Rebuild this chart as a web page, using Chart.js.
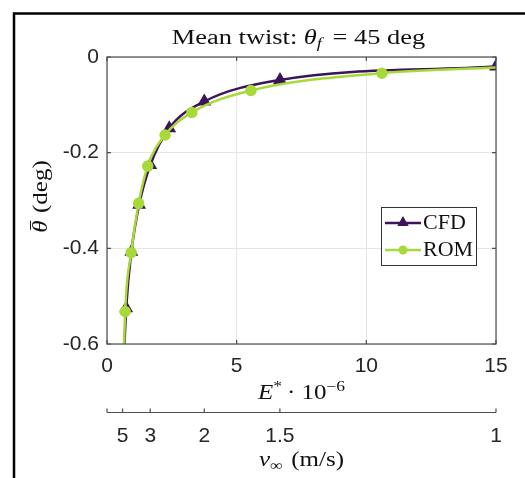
<!DOCTYPE html>
<html>
<head>
<meta charset="utf-8">
<script src="https://cdn.jsdelivr.net/npm/chart.js@4/dist/chart.umd.min.js"></script>
<style>
html,body{margin:0;padding:0;background:#fff;}
#wrap{width:525px;height:478px;}
</style>
</head>
<body>
<div id="wrap"><canvas id="c" width="525" height="478"></canvas></div>
<script>
// ---- data ----
const cfdE     = [0.60, 0.74, 0.94, 1.24, 1.67, 2.40, 3.75, 6.67, 15.0];
const cfdTheta = [-0.70, -0.525, -0.407, -0.309, -0.226, -0.149, -0.093, -0.048, -0.020];
const cfdMarker = [true, true, true, true, true, true, true, true, true];

const romE     = [0.60, 0.70, 0.93, 1.22, 1.57, 2.24, 3.27, 5.55, 10.6, 15.0];
const romTheta = [-0.72, -0.532, -0.409, -0.306, -0.228, -0.163, -0.116, -0.070, -0.034, -0.022];
const romMarker = [false, true, true, true, true, true, true, true, true, false];

const xTicks = [0, 5, 10, 15];
const yTicks = [-0.6, -0.4, -0.2, 0];
const vTicks = [5, 3, 2, 1.5, 1];          // secondary axis labels (m/s)
const eRef = 15;                             // E* = eRef / v^2 (axis relation)

const seriesNames = ['CFD', 'ROM'];
const cfdColor = '#3d1458';
const romColor = '#a8d93a';

const SERIF = '"Liberation Serif", "Times New Roman", serif';
const SANS = '"Liberation Sans", Arial, sans-serif';
const AXC = '#4d4d4d';
const TXT = '#262626';
const SX = 1.25;   // horizontal stretch of the serif (LaTeX-like) text

function drawRich(ctx, parts, x, y, align, sx) {
  sx = sx || 1;
  let w = 0;
  for (const p of parts) {
    ctx.font = (p.italic ? 'italic ' : '') + p.size + 'px ' + SERIF;
    p.w = ctx.measureText(p.t).width;
    w += p.w + (p.gap || 0);
  }
  ctx.save();
  ctx.translate(x, y);
  ctx.scale(sx, 1);
  let cx = align === 'center' ? -w / 2 : 0;
  const pos = [];
  for (const p of parts) {
    ctx.font = (p.italic ? 'italic ' : '') + p.size + 'px ' + SERIF;
    ctx.fillText(p.t, cx, (p.dy || 0));
    pos.push(cx * sx);
    cx += p.w + (p.gap || 0);
  }
  ctx.restore();
  return pos;
}

function triangle(ctx, x, y, r) {
  ctx.beginPath();
  ctx.moveTo(x, y - r);
  ctx.lineTo(x + r * 0.95, y + r * 0.65);
  ctx.lineTo(x - r * 0.95, y + r * 0.65);
  ctx.closePath();
  ctx.fill();
}

const decor = {
  id: 'decor',
  afterDraw(chart) {
    const ctx = chart.ctx;
    const a = chart.chartArea;
    const xs = chart.scales.x, ys = chart.scales.y, x2 = chart.scales.x2;
    ctx.save();
    // outer frame (top + left visible)
    ctx.strokeStyle = '#000';
    ctx.lineWidth = 2.5;
    ctx.beginPath();
    ctx.moveTo(14, 490); ctx.lineTo(14, 13.5); ctx.lineTo(540, 13.5);
    ctx.stroke();

    // axes box
    ctx.strokeStyle = AXC;
    ctx.lineWidth = 1.2;
    ctx.strokeRect(a.left, a.top, a.right - a.left, a.bottom - a.top);
    // inner ticks
    const tl = 4;
    ctx.beginPath();
    for (const v of xTicks) {
      const px = xs.getPixelForValue(v);
      ctx.moveTo(px, a.bottom); ctx.lineTo(px, a.bottom - tl);
      ctx.moveTo(px, a.top); ctx.lineTo(px, a.top + tl);
    }
    for (const v of yTicks) {
      const py = ys.getPixelForValue(v);
      ctx.moveTo(a.left, py); ctx.lineTo(a.left + tl, py);
      ctx.moveTo(a.right, py); ctx.lineTo(a.right - tl, py);
    }
    ctx.stroke();

    // secondary axis line and ticks
    const ly = x2.top + 0.5;
    ctx.beginPath();
    ctx.moveTo(x2.getPixelForValue(0), ly); ctx.lineTo(x2.getPixelForValue(15), ly);
    for (const v of vTicks) {
      const px = x2.getPixelForValue(eRef / (v * v));
      ctx.moveTo(px, ly); ctx.lineTo(px, ly - 4);
    }
    ctx.moveTo(x2.getPixelForValue(0), ly); ctx.lineTo(x2.getPixelForValue(0), ly - 4);
    ctx.stroke();

    // title
    ctx.fillStyle = '#111';
    ctx.textBaseline = 'alphabetic';
    ctx.textAlign = 'left';
    const cx = (a.left + a.right) / 2;
    drawRich(ctx, [
      {t: 'Mean twist: ', size: 20},
      {t: 'θ', size: 20, italic: true},
      {t: 'f', size: 14, italic: true, dy: 4, gap: 3},
      {t: ' = 45 deg', size: 20}
    ], cx - 3, 44, 'center', 1.32);

    // x label  E* · 10^-6
    drawRich(ctx, [
      {t: 'E', size: 20, italic: true},
      {t: '*', size: 14, dy: -8, gap: 4},
      {t: '· 10', size: 20},
      {t: '−6', size: 14, dy: -8}
    ], cx, 399, 'center', SX);

    // secondary label v∞ (m/s)
    drawRich(ctx, [
      {t: 'v', size: 20, italic: true},
      {t: '∞', size: 14, dy: 4, gap: 7},
      {t: '(m/s)', size: 20}
    ], cx, 466, 'center', SX);

    // y label θ̄ (deg)
    ctx.save();
    ctx.translate(47, (a.top + a.bottom) / 2 - 4);
    ctx.rotate(-Math.PI / 2);
    const pos = drawRich(ctx, [
      {t: 'θ', size: 20, italic: true, gap: 6},
      {t: '(deg)', size: 20}
    ], 0, 0, 'center', SX);
    ctx.strokeStyle = '#111';
    ctx.lineWidth = 1;
    ctx.beginPath();
    ctx.moveTo(pos[0] + 3, -16.5); ctx.lineTo(pos[0] + 12, -16.5);
    ctx.stroke();
    ctx.restore();

    // legend
    const lx = 381, ly0 = 207, lw = 95, lh = 58;
    ctx.fillStyle = '#fff';
    ctx.fillRect(lx, ly0, lw, lh);
    ctx.strokeStyle = '#333';
    ctx.lineWidth = 1;
    ctx.strokeRect(lx + 0.5, ly0 + 0.5, lw, lh);
    chart.data.datasets.forEach((ds, i) => {
      const yy = ly0 + 16 + i * 27;
      ctx.strokeStyle = ds.borderColor;
      ctx.lineWidth = 2.5;
      ctx.beginPath();
      ctx.moveTo(lx + 4, yy); ctx.lineTo(lx + 40, yy);
      ctx.stroke();
      ctx.fillStyle = ds.backgroundColor;
      if (i === 0) triangle(ctx, lx + 22, yy - 1, 6);
      else { ctx.beginPath(); ctx.arc(lx + 22, yy, 4.5, 0, Math.PI * 2); ctx.fill(); }
      ctx.fillStyle = '#111';
      ctx.textBaseline = 'middle';
      drawRich(ctx, [{t: ds.label, size: 20}], lx + 42, yy + 1, 'left', 1.1);
    });
    ctx.restore();
  }
};

const cfdData = cfdE.map((e, i) => ({x: e, y: cfdTheta[i]}));
const romData = romE.map((e, i) => ({x: e, y: romTheta[i]}));

new Chart(document.getElementById('c'), {
  type: 'line',
  data: {
    datasets: [
      {
        label: seriesNames[0], data: cfdData,
        borderColor: cfdColor, backgroundColor: cfdColor,
        borderWidth: 2.5, pointStyle: 'triangle',
        pointRadius: cfdMarker.map(m => m ? 5.5 : 0),
        cubicInterpolationMode: 'monotone', order: 2
      },
      {
        label: seriesNames[1], data: romData,
        borderColor: romColor, backgroundColor: romColor,
        borderWidth: 2.5, pointStyle: 'circle',
        pointRadius: romMarker.map(m => m ? 4.5 : 0),
        cubicInterpolationMode: 'monotone', order: 1
      }
    ]
  },
  options: {
    responsive: false,
    animation: false,
    events: [],
    layout: {padding: {left: 20, top: 57, right: 29, bottom: 0}},
    plugins: {legend: {display: false}, title: {display: false}, tooltip: {enabled: false}},
    scales: {
      x: {
        type: 'linear', position: 'bottom', min: 0, max: 15,
        afterBuildTicks: s => { s.ticks = xTicks.map(v => ({value: v})); },
        afterFit: s => { s.height = 68; },
        grid: {color: '#e6e6e6', drawTicks: false, lineWidth: 1},
        border: {display: false},
        ticks: {font: {family: SANS, size: 21}, color: TXT, padding: 10, maxRotation: 0,
                callback: v => String(v)}
      },
      x2: {
        type: 'linear', position: 'bottom', min: 0, max: 15,
        afterBuildTicks: s => { s.ticks = vTicks.map(v => ({value: eRef / (v * v)})); },
        afterFit: s => { s.height = 66; },
        grid: {display: false, drawTicks: false},
        border: {display: false},
        ticks: {font: {family: SANS, size: 21}, color: TXT, padding: 12, maxRotation: 0, autoSkip: false,
                callback: (v, i) => String(vTicks[i])}
      },
      y: {
        type: 'linear', min: -0.6, max: 0,
        afterBuildTicks: s => { s.ticks = yTicks.map(v => ({value: v})); },
        afterFit: s => { s.width = 87; },
        grid: {color: '#e6e6e6', drawTicks: false, lineWidth: 1},
        border: {display: false},
        ticks: {font: {family: SANS, size: 21}, color: TXT, padding: 8,
                callback: v => (Math.abs(v) < 1e-9 ? '0' : v.toFixed(1))}
      }
    }
  },
  plugins: [decor]
});
</script>
</body>
</html>
